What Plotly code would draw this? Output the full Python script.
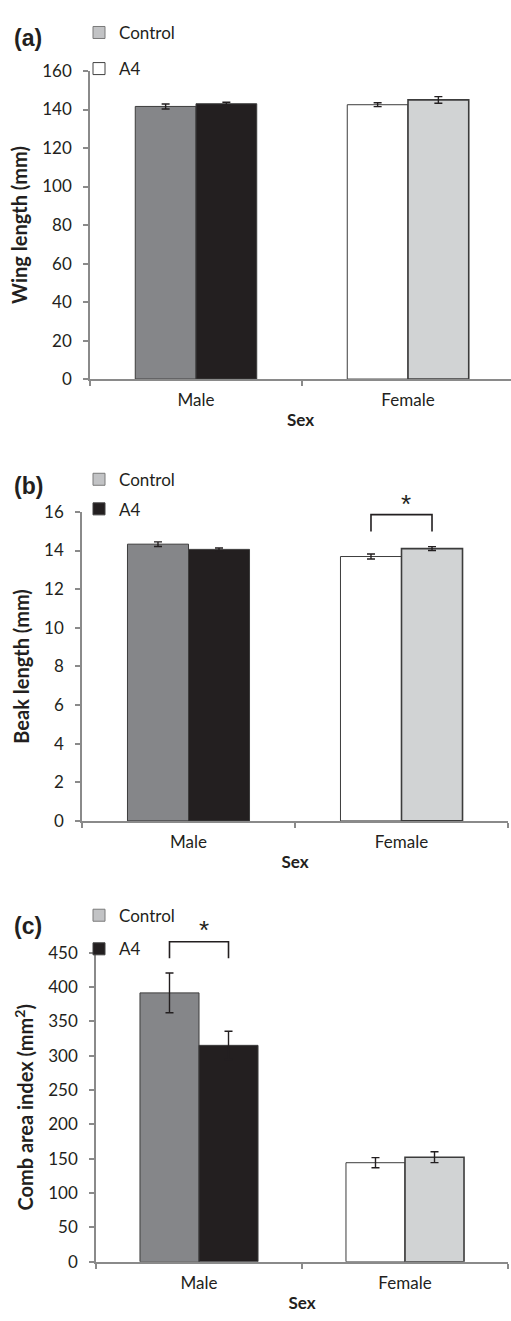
import plotly.graph_objects as go

# ---------------- data ----------------
categories = ["Male", "Female"]

wing_control = [141.6, 142.5]
wing_control_se = [1.3, 1.0]
wing_a4 = [143.0, 145.0]
wing_a4_se = [0.8, 1.7]

beak_control = [14.33, 13.69]
beak_control_se = [0.12, 0.13]
beak_a4 = [14.06, 14.10]
beak_a4_se = [0.07, 0.10]

comb_control = [391.6, 144.3]
comb_control_se = [29.0, 7.4]
comb_a4 = [315.2, 152.3]
comb_a4_se = [20.5, 7.9]

wing_ticks = [0, 20, 40, 60, 80, 100, 120, 140, 160]
beak_ticks = [0, 2, 4, 6, 8, 10, 12, 14, 16]
comb_ticks = [0, 50, 100, 150, 200, 250, 300, 350, 400, 450]

# significance brackets: (category, bracket top, bracket legs, asterisk height)
sig_b = ("Female", 15.86, 14.98, 16.7)
sig_c = ("Male", 466.0, 442.0, 492.0)

# ---------------- style ----------------
W, H = 511, 1321
FONT = "Lato"
AX = "#8a8a8a"
TXT = "#231f20"
col_ctrl = ["#858689", "#ffffff"]
col_a4 = ["#231f20", "#d1d3d4"]
line_ctrl = [1, 1]
line_a4 = [1, 1.6]

def px(x):
    return x / W

def py(y):
    return 1 - y / H

fig = go.Figure()

panels = [
    dict(ctrl=wing_control, cse=wing_control_se, a4=wing_a4, ase=wing_a4_se,
         xd=[px(90), 1.0], xr=[-0.5, -0.5 + 421 / 212], yd=[py(374), py(61)], yr=[0, 160],
         ticks=wing_ticks, title="Wing length (mm)",
         leg_a4="#ffffff", label="(a)", label_y=27, leg_top=4, leg_gap=11),
    dict(ctrl=beak_control, cse=beak_control_se, a4=beak_a4, ase=beak_a4_se,
         xd=[px(82), px(508)], xr=[-0.5, 1.5], yd=[py(823), py(509)], yr=[0, 16],
         ticks=beak_ticks, title="Beak length (mm)",
         leg_a4="#231f20", label="(b)", label_y=483, leg_top=458, leg_gap=4.5),
    dict(ctrl=comb_control, cse=comb_control_se, a4=comb_a4, ase=comb_a4_se,
         xd=[px(96), px(508)], xr=[-0.5, 1.5], yd=[py(1271), py(957)], yr=[0, 450],
         ticks=comb_ticks, title="Comb area index (mm<sup>2</sup>)",
         leg_a4="#231f20", label="(c)", label_y=930, leg_top=901, leg_gap=8.5),
]

annotations = []
shapes = []

for i, p in enumerate(panels, start=1):
    sfx = "" if i == 1 else str(i)
    xa, ya = "x" + sfx, "y" + sfx
    leg = "legend" + sfx
    err = dict(type="data", thickness=1.4, width=4, color=TXT)
    fig.add_trace(go.Bar(
        x=categories, y=p["ctrl"], name="Control", offsetgroup="ctrl",
        error_y=dict(array=p["cse"], **err),
        marker=dict(color=col_ctrl, line=dict(color="#3c3c3c", width=line_ctrl)),
        xaxis=xa, yaxis=ya, showlegend=False))
    fig.add_trace(go.Bar(
        x=categories, y=p["a4"], name="A4", offsetgroup="a4",
        error_y=dict(array=p["ase"], **err),
        marker=dict(color=col_a4, line=dict(color="#3c3c3c", width=line_a4)),
        xaxis=xa, yaxis=ya, showlegend=False))
    # legend entries
    fig.add_trace(go.Scatter(
        x=[None], y=[None], mode="markers", name="Control", legend=leg, legendgroup="c" + sfx,
        marker=dict(symbol="square", size=12, color="#c2c3c5", line=dict(color="#7a7a7a", width=1)),
        xaxis=xa, yaxis=ya))
    fig.add_trace(go.Scatter(
        x=[None], y=[None], mode="markers", name="A4", legend=leg, legendgroup="a" + sfx,
        marker=dict(symbol="square", size=12, color=p["leg_a4"], line=dict(color="#404040", width=1)),
        xaxis=xa, yaxis=ya))

    axis_common = dict(showline=True, linecolor=AX, linewidth=1.5, ticks="outside",
                       ticklen=5, tickwidth=1.5, tickcolor=AX, showgrid=False, zeroline=False,
                       tickfont=dict(family=FONT, size=17, color=TXT))
    fig.layout["xaxis" + sfx] = dict(
        domain=p["xd"], range=p["xr"], type="category", tickson="boundaries",
        anchor=ya, ticklabelstandoff=5,
        title=dict(text="Sex", standoff=5, font=dict(family=FONT, size=17, color=TXT, weight="bold")),
        **axis_common)
    fig.layout["yaxis" + sfx] = dict(
        domain=p["yd"], range=p["yr"], tickmode="array", tickvals=p["ticks"],
        anchor=xa, ticklabelstandoff=8,
        title=dict(text=p["title"], standoff=9, font=dict(family=FONT, size=20, color=TXT, weight="bold")),
        **axis_common)
    fig.layout[leg] = dict(
        x=px(79), xanchor="left", y=py(p["leg_top"]), yanchor="top",
        bgcolor="rgba(0,0,0,0)", traceorder="grouped", tracegroupgap=p["leg_gap"],
        font=dict(family=FONT, size=17, color=TXT), itemclick=False)

    annotations.append(dict(text="<b>" + p["label"] + "</b>", x=px(12), y=py(p["label_y"]),
                            xref="paper", yref="paper", xanchor="left", yanchor="middle",
                            showarrow=False, font=dict(family="Liberation Sans", size=23, color=TXT)))

# significance brackets (drawn in axis-domain units computed from data values)
def bracket(sfx, p, sig, xshift):
    cat, ytop, yleg, ystar = sig
    ci = categories.index(cat)
    x0d, x1d = p["xr"]
    half = (1 - 0.427) / 4  # half the bar width in category units
    xl = ((ci - half) - x0d) / (x1d - x0d)
    xr = ((ci + half) - x0d) / (x1d - x0d)
    xc = (ci - x0d) / (x1d - x0d)
    y0, y1 = p["yr"]
    yt = (ytop - y0) / (y1 - y0)
    yl = (yleg - y0) / (y1 - y0)
    ys = (ystar - y0) / (y1 - y0)
    shapes.append(dict(type="path", xref="x" + sfx + " domain", yref="y" + sfx + " domain",
                       path=f"M{xl},{yl} L{xl},{yt} L{xr},{yt} L{xr},{yl}",
                       line=dict(color=TXT, width=1.6)))
    annotations.append(dict(text="*", x=xc, y=ys, xref="x" + sfx + " domain", yref="y" + sfx + " domain",
                            xanchor="center", yanchor="middle", yshift=-6, xshift=xshift,
                            showarrow=False, font=dict(family="Liberation Sans", size=26, color=TXT)))

bracket("2", panels[1], sig_b, 4)
bracket("3", panels[2], sig_c, 5)

fig.update_layout(
    width=W, height=H, autosize=False,
    margin=dict(l=0, r=0, t=0, b=0),
    paper_bgcolor="white", plot_bgcolor="white",
    barmode="group", bargap=0.427, bargroupgap=0,
    annotations=annotations, shapes=shapes,
    font=dict(family=FONT, color=TXT),
)

fig.write_html("out.html", config={"displayModeBar": False},
               post_script="document.body.style.margin='0';")
